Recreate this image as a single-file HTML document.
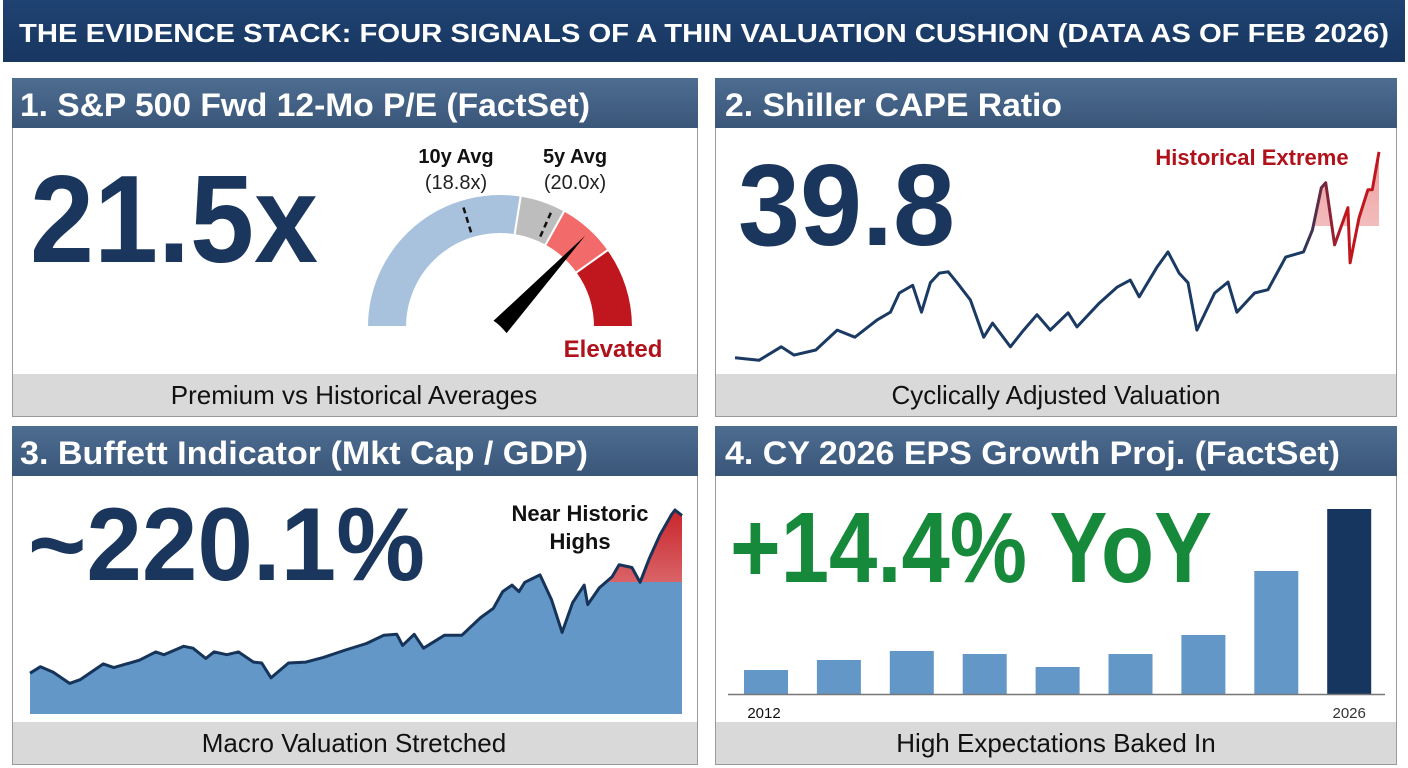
<!DOCTYPE html>
<html><head><meta charset="utf-8"><style>
html,body{margin:0;padding:0;background:#fff}
svg{display:block}
text{font-family:"Liberation Sans",Arial,sans-serif}
</style></head><body>
<svg id="root" width="1408" height="768" viewBox="0 0 1408 768">
<defs>
<linearGradient id="hdr" x1="0" y1="0" x2="0" y2="1"><stop offset="0" stop-color="#4d6d91"/><stop offset="1" stop-color="#3a5679"/></linearGradient>
<linearGradient id="ttl" x1="0" y1="0" x2="0" y2="1"><stop offset="0" stop-color="#1f4372"/><stop offset="1" stop-color="#183660"/></linearGradient>
<linearGradient id="capeLine" gradientUnits="userSpaceOnUse" x1="1300" y1="0" x2="1345" y2="0"><stop offset="0" stop-color="#1b3a63"/><stop offset="1" stop-color="#c0161e"/></linearGradient>
<linearGradient id="redFill" x1="0" y1="0" x2="0" y2="1"><stop offset="0" stop-color="#c9252b"/><stop offset="1" stop-color="#f6d6d6"/></linearGradient>
<linearGradient id="redFill2" x1="0" y1="0" x2="0" y2="1"><stop offset="0" stop-color="#e88080" stop-opacity="0.8"/><stop offset="1" stop-color="#fbe4e4" stop-opacity="0.6"/></linearGradient>
<clipPath id="clipRed3"><rect x="604" y="480" width="90" height="102"/></clipPath>
<clipPath id="clipRed2"><rect x="1312" y="140" width="80" height="86"/></clipPath>
</defs>

<!-- title -->
<rect x="3" y="0" width="1402" height="62" fill="url(#ttl)"/>
<text x="704" y="42" text-anchor="middle" fill="#fff" font-weight="bold" font-size="26" textLength="1370" lengthAdjust="spacingAndGlyphs">THE EVIDENCE STACK: FOUR SIGNALS OF A THIN VALUATION CUSHION (DATA AS OF FEB 2026)</text>

<!-- panel frames -->
<g>
<rect x="12.5" y="78.5" width="685" height="338" fill="#fff" stroke="#9a9a9a"/>
<rect x="12" y="78" width="686" height="50" fill="url(#hdr)"/>
<text x="20" y="116" fill="#fff" font-weight="bold" font-size="32" textLength="570" lengthAdjust="spacingAndGlyphs">1. S&amp;P 500 Fwd 12-Mo P/E (FactSet)</text>
<rect x="13" y="374" width="684" height="42" fill="#d9d9d9"/>
<text x="354" y="404" text-anchor="middle" fill="#111" font-size="26">Premium vs Historical Averages</text>
</g>
<g>
<rect x="715.5" y="78.5" width="681" height="338" fill="#fff" stroke="#9a9a9a"/>
<rect x="715" y="78" width="682" height="50" fill="url(#hdr)"/>
<text x="725" y="116" fill="#fff" font-weight="bold" font-size="32" textLength="337" lengthAdjust="spacingAndGlyphs">2. Shiller CAPE Ratio</text>
<rect x="716" y="374" width="680" height="42" fill="#d9d9d9"/>
<text x="1056" y="404" text-anchor="middle" fill="#111" font-size="26">Cyclically Adjusted Valuation</text>
</g>
<g>
<rect x="12.5" y="426.5" width="685" height="338" fill="#fff" stroke="#9a9a9a"/>
<rect x="12" y="426" width="686" height="50" fill="url(#hdr)"/>
<text x="20" y="464" fill="#fff" font-weight="bold" font-size="32" textLength="568" lengthAdjust="spacingAndGlyphs">3. Buffett Indicator (Mkt Cap / GDP)</text>
<rect x="13" y="722" width="684" height="42" fill="#d9d9d9"/>
<text x="354" y="752" text-anchor="middle" fill="#111" font-size="26">Macro Valuation Stretched</text>
</g>
<g>
<rect x="715.5" y="426.5" width="681" height="338" fill="#fff" stroke="#9a9a9a"/>
<rect x="715" y="426" width="682" height="50" fill="url(#hdr)"/>
<text x="725" y="464" fill="#fff" font-weight="bold" font-size="32" textLength="615" lengthAdjust="spacingAndGlyphs">4. CY 2026 EPS Growth Proj. (FactSet)</text>
<rect x="716" y="722" width="680" height="42" fill="#d9d9d9"/>
<text x="1056" y="752" text-anchor="middle" fill="#111" font-size="26">High Expectations Baked In</text>
</g>

<!-- big numbers -->
<text x="30" y="262" fill="#1b365d" font-weight="bold" font-size="124" textLength="288" lengthAdjust="spacingAndGlyphs">21.5x</text>
<text x="738" y="245" fill="#1b365d" font-weight="bold" font-size="116" textLength="217" lengthAdjust="spacingAndGlyphs">39.8</text>
<text x="28" y="580" fill="#1b365d" font-weight="bold" font-size="104" textLength="397" lengthAdjust="spacingAndGlyphs">~220.1%</text>
<text x="730" y="582" fill="#17893a" font-weight="bold" font-size="100" textLength="482" lengthAdjust="spacingAndGlyphs">+14.4% YoY</text>

<g id="gauge"></g>
<text x="456" y="163" text-anchor="middle" font-weight="bold" font-size="20" fill="#111">10y Avg</text>
<text x="456" y="189" text-anchor="middle" font-size="20" fill="#222">(18.8x)</text>
<text x="575" y="163" text-anchor="middle" font-weight="bold" font-size="20" fill="#111">5y Avg</text>
<text x="575" y="189" text-anchor="middle" font-size="20" fill="#222">(20.0x)</text>
<text x="613" y="357" text-anchor="middle" font-weight="bold" font-size="24" fill="#b0121b">Elevated</text>

<g id="cape"></g>
<text x="1252" y="165" text-anchor="middle" font-weight="bold" font-size="22" fill="#b0121b">Historical Extreme</text>

<g id="buffett"></g>
<text x="580" y="521" text-anchor="middle" font-weight="bold" font-size="22" fill="#111">Near Historic</text>
<text x="580" y="549" text-anchor="middle" font-weight="bold" font-size="22" fill="#111">Highs</text>

<g id="eps"></g>
</svg>
<script>
// ---- data ----
const gaugeBands = [[0,99],[99,119],[119,144.5],[144.5,180]]; // degrees clockwise from left
const gaugeColors = ['#a8c2de','#bdbdbd','#f36a6a','#c0161e'];
const gaugeMarkers = [73, 114];
const needleAngle = 133;

const capeYears = [1881,1886.4,1891.4,1894.3,1899.2,1904,1908,1913,1916,1918,1921,1923,1925,1927,1929,1931,1934,1937,1939,1943,1946,1949,1952,1956,1958,1963,1967,1970,1972,1976,1978.5,1981,1983,1985,1989,1992,1994,1998,2001,2005,2009,2011,2013,2014,2016,2019,2019.5,2021.5,2023.5,2024.5,2026];
const capeValues = [7.7,7.3,9.4,8.1,8.9,12.0,10.9,13.6,14.8,17.8,19.0,14.8,19.4,20.9,21.1,19.4,16.7,10.9,13.1,9.4,12.0,14.4,12.0,14.7,12.5,16.2,18.7,19.8,17.2,21.8,24.2,20.9,19.4,12.0,17.8,19.5,14.8,17.8,18.3,23.4,24.2,27.6,34.2,35.0,25.3,31.1,22.5,29.5,33.9,33.9,39.8];

const buffYears = [1970,1970.9,1972,1973.4,1974.3,1976.3,1977.2,1979.4,1980.8,1981.5,1983.2,1984,1985.1,1985.8,1986.9,1987.9,1989.2,1989.9,1990.7,1992.2,1993.7,1995.2,1997.1,1998.9,2000.4,2001.5,2002,2003,2003.8,2005.6,2007.1,2008.7,2009.8,2010.6,2011.4,2012,2012.5,2013.8,2014.8,2015.7,2016.6,2017.6,2017.9,2018.9,2020,2020.6,2021.7,2022.4,2023.2,2024.1,2025.1,2025.4,2026];
const buffValues = [44,51,45,33,37,54,50,58,67,64,73,71,60,67,64,67,56,55,39,55,56,61,69,76,85,86,74,86,71,85,85,104,114,132,139,132,142,150,123,88,120,139,118,136,148,161,158,142,168,193,215,220,214];

const epsYears = ['2012','2014','2016','2018','2020','2022','2024','2025','2026'];
const epsValues = [4.8,6.8,8.6,8.0,5.4,8.0,11.8,24.6,37.0];
const epsTickLabels = ['2012','2026'];

const NS='http://www.w3.org/2000/svg';
function mk(tag, attrs, parent){const e=document.createElementNS(NS,tag);for(const k in attrs)e.setAttribute(k,attrs[k]);parent.appendChild(e);return e;}

// ---- gauge ----
(function(){
  const g=document.getElementById('gauge');
  const cx=500, cy=327, R=133, r=93;
  const pt=(deg,rad)=>{const a=Math.PI-deg*Math.PI/180;return [cx+rad*Math.cos(a), cy-rad*Math.sin(a)];};
  gaugeBands.forEach((b,i)=>{
    const [a0,a1]=b;
    const p1=pt(a0,R),p2=pt(a1,R),p3=pt(a1,r),p4=pt(a0,r);
    const el=mk('path',{d:`M${p1[0]},${p1[1]} A${R},${R} 0 0 1 ${p2[0]},${p2[1]} L${p3[0]},${p3[1]} A${r},${r} 0 0 0 ${p4[0]},${p4[1]} Z`,fill:gaugeColors[i],stroke:'#fff','stroke-width':2},g);
    
    
  });
  gaugeMarkers.forEach((m,i)=>{
    const a=pt(m,R-8),b=pt(m,r+2);
    const el=mk('line',{x1:a[0],y1:a[1],x2:b[0],y2:b[1],stroke:'#111','stroke-width':2.5,'stroke-dasharray':'6,4'},g);
    
    
  });
  const tip=pt(needleAngle,125);
  const a=Math.PI-needleAngle*Math.PI/180;
  const nx=-Math.sin(a), ny=-Math.cos(a);
  const w=9;
  const b1=[cx+nx*w, cy+ny*w], b2=[cx-nx*w, cy-ny*w];
  const nd=mk('path',{d:`M${b1[0]},${b1[1]} L${tip[0]},${tip[1]} L${b2[0]},${b2[1]} Q${cx-2},${cy-4} ${b1[0]},${b1[1]} Z`,fill:'#000'},g);
  
  
})();

// ---- CAPE ----
(function(){
  const g=document.getElementById('cape');
  const x=yr=>735+(yr-1881)/(2026-1881)*644;
  const y=v=>375-(v-5)*6.41;
  const pts=capeYears.map((yr,i)=>[x(yr),y(capeValues[i])]);
  const d='M'+pts.map(p=>p[0].toFixed(1)+','+p[1].toFixed(1)).join(' L');
  const area=d+` L${pts[pts.length-1][0]},226 L${pts[0][0]},226 Z`;
  const f=mk('path',{d:area,fill:'url(#redFill2)','clip-path':'url(#clipRed2)'},g);
  
  
  const l=mk('path',{d:d,fill:'none',stroke:'url(#capeLine)','stroke-width':3,'stroke-linejoin':'round'},g);
  
  
})();

// ---- Buffett ----
(function(){
  const g=document.getElementById('buffett');
  const x=yr=>30+(yr-1970)/(2026-1970)*652;
  const y=v=>714-v*(204/220);
  const pts=buffYears.map((yr,i)=>[x(yr),y(buffValues[i])]);
  const line='M'+pts.map(p=>p[0].toFixed(1)+','+p[1].toFixed(1)).join(' L');
  const area=line+` L${pts[pts.length-1][0]},714 L${pts[0][0]},714 Z`;
  const a=mk('path',{d:area,fill:'#6397c7'},g);
  
  
  const r=mk('path',{d:area,fill:'url(#redFill)','clip-path':'url(#clipRed3)'},g);
  
  
  const l=mk('path',{d:line,fill:'none',stroke:'#163459','stroke-width':3,'stroke-linejoin':'round'},g);
  
  
})();

// ---- EPS bars ----
(function(){
  const g=document.getElementById('eps');
  const base=694, k=5;
  const x=i=>766+i*72.9;
  epsValues.forEach((v,i)=>{
    const h=v*k;
    const b=mk('rect',{x:x(i)-22,y:base-h,width:44,height:h,fill:i===epsValues.length-1?'#16365f':'#6397c7'},g);
    
    
  });
  const ax=mk('line',{x1:728,y1:base+0.5,x2:1385,y2:base+0.5,stroke:'#777','stroke-width':1.5},g);
  
  
  const t1=mk('text',{x:x(0)-2,y:718,'text-anchor':'middle','font-size':15,fill:'#111'},g);
  t1.textContent=epsTickLabels[0];
  
  
  const t2=mk('text',{x:x(epsValues.length-1),y:718,'text-anchor':'middle','font-size':15,fill:'#333'},g);
  t2.textContent=epsTickLabels[1];
  
  
})();
</script>
</body></html>
